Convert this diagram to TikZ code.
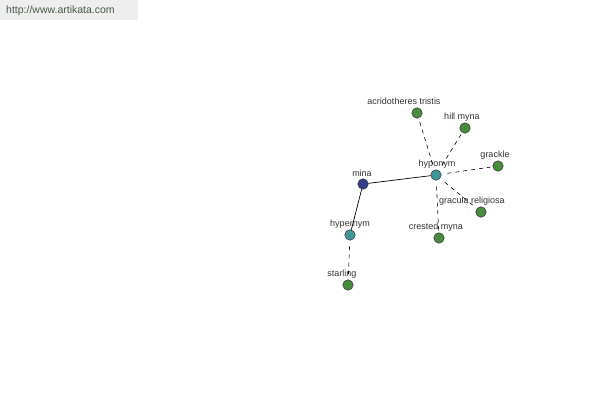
\documentclass[tikz,border=0pt]{standalone}
\usepackage{fontspec}
\setmainfont{Liberation Sans}
\definecolor{minablue}{RGB}{52,60,140}
\definecolor{hyteal}{RGB}{62,150,150}
\definecolor{leafgreen}{RGB}{72,138,62}
\definecolor{labelgray}{RGB}{50,50,50}
\definecolor{wmbg}{RGB}{238,238,238}
\definecolor{wmtext}{RGB}{70,90,70}
\begin{document}
\begin{tikzpicture}[x=1pt,y=-1pt,
  dot/.style={circle,draw=black!80,line width=0.5pt,minimum size=10.5pt,inner sep=0pt},
  lbl/.style={font=\fontsize{9}{10}\selectfont,text=labelgray,inner sep=0pt},
  solidedge/.style={draw=black,line width=0.7pt},
  dashedge/.style={draw=black,line width=0.6pt,dashed,dash pattern=on 4pt off 4pt,shorten <=6pt,shorten >=2pt}]
\useasboundingbox (0,0) rectangle (600,400);
\fill[wmbg] (0,0) rectangle (138,20);
\node[anchor=west,font=\fontsize{10.5}{11}\selectfont,text=wmtext,inner sep=0pt] (wm) at (6,11) {http://www.artikata.com};
% nodes
\node[dot,fill=minablue] (mina) at (363,184) {};
\node[dot,fill=hyteal] (hypo) at (436,175) {};
\node[dot,fill=hyteal] (hyper) at (350,235) {};
\node[dot,fill=leafgreen] (starling) at (348,285) {};
\node[dot,fill=leafgreen] (acr) at (417,113) {};
\node[dot,fill=leafgreen] (hill) at (465,128) {};
\node[dot,fill=leafgreen] (grackle) at (498,166) {};
\node[dot,fill=leafgreen] (gracula) at (481,212) {};
\node[dot,fill=leafgreen] (crested) at (439,238) {};
% labels
\node[lbl] (lmina) at (362,173) {mina};
\node[lbl] (lhypo) at (437,164) {hyponym};
\node[lbl] (lhyper) at (350,224) {hypernym};
\node[lbl] (lstar) at (342,274) {starling};
\node[lbl] (lacr) at (404,101) {acridotheres tristis};
\node[lbl] (lhill) at (462,117) {hill myna};
\node[lbl] (lgrackle) at (495,155) {grackle};
\node[lbl] (lgracula) at (472,201) {gracula religiosa};
\node[lbl] (lcrested) at (436,227) {crested myna};
% edges
\draw[solidedge] (mina) -- (hypo);
\draw[solidedge] (mina) -- (hyper);
\draw[dashedge] (hyper) -- (starling);
\draw[dashedge] (hypo) -- (acr);
\draw[dashedge] (hypo) -- (hill);
\draw[dashedge] (hypo) -- (grackle);
\draw[dashedge] (hypo) -- (gracula);
\draw[dashedge] (hypo) -- (crested);
\end{tikzpicture}
\end{document}
